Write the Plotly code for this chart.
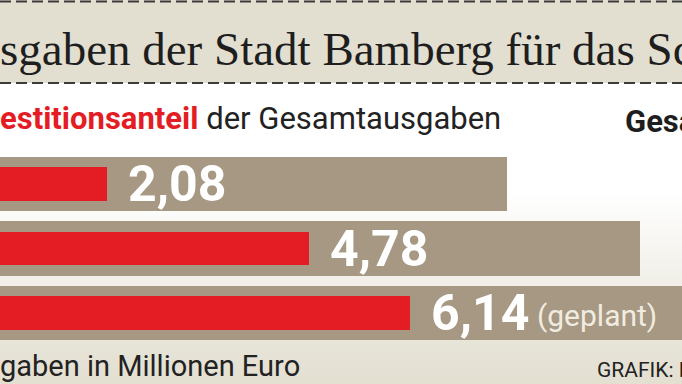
import base64
import plotly.graph_objects as go

# ---- data ----
categories = ["Jahr 1", "Jahr 2", "Jahr 3"]
gesamt = [7.44, 9.22, 10.3]          # Gesamtausgaben (tan bars)
invest = [2.08, 4.78, 6.14]          # Investitionsanteil (red bars)
invest_labels = ["2,08", "4,78", "6,14"]
notes = ["", "", "(geplant)"]

title_text = "sgaben der Stadt Bamberg für das Sc"
sub_red = "estitionsanteil"
sub_black = "der Gesamtausgaben"
right_head = "Gesa"
unit_text = "gaben in Millionen Euro"
credit_text = "GRAFIK: F"

W, H = 682, 384
TAN = "#a69882"
RED = "#e41c24"
BAND = "#e2dfd0"
SANS = "Roboto, Liberation Sans, sans-serif"

fig = go.Figure()
fig.add_trace(go.Bar(y=categories, x=gesamt, orientation="h", width=0.84,
                     marker=dict(color=TAN, line=dict(width=0)),
                     hoverinfo="skip", showlegend=False))
fig.add_trace(go.Bar(y=categories, x=invest, orientation="h", width=0.52,
                     marker=dict(color=RED, line=dict(width=0)),
                     hoverinfo="skip", showlegend=False))

# value labels after the red bars
for c, v, lab, note in zip(categories, invest, invest_labels, notes):
    fig.add_annotation(x=v, y=c, xref="x", yref="y", text="<b>" + lab + "</b>",
                       showarrow=False, xanchor="left", yanchor="middle",
                       xshift=19, font=dict(family=SANS, size=50, color="white"))
    if note:
        fig.add_annotation(x=v, y=c, xref="x", yref="y", text=note,
                           showarrow=False, xanchor="left", yanchor="middle",
                           xshift=125, yshift=-2,
                           font=dict(family=SANS, size=30, color="#f1ece1"))

# background: gradient below the title band
svg = ('<svg xmlns="http://www.w3.org/2000/svg" width="682" height="300" preserveAspectRatio="none">'
       '<defs><linearGradient id="g" x1="0" y1="0" x2="0" y2="1">'
       '<stop offset="0" stop-color="#ffffff"/>'
       '<stop offset="0.36" stop-color="#ffffff"/>'
       '<stop offset="0.86" stop-color="#e7e4d8"/>'
       '<stop offset="1" stop-color="#e3e0d2"/>'
       '</linearGradient></defs><rect width="682" height="300" fill="url(#g)"/></svg>')
src = "data:image/svg+xml;base64," + base64.b64encode(svg.encode()).decode()
fig.add_layout_image(source=src, xref="paper", yref="paper", x=0, y=1 - 84 / H,
                     sizex=1, sizey=300 / H, sizing="stretch", layer="below",
                     xanchor="left", yanchor="top")

shapes = [
    dict(type="rect", xref="paper", yref="paper", x0=0, x1=1, y0=1 - 83 / H, y1=1,
         fillcolor=BAND, line=dict(width=0), layer="below"),
    dict(type="line", xref="paper", yref="paper", x0=0, x1=1, y0=1 - 1.5 / H, y1=1 - 1.5 / H,
         line=dict(color="#3b3b3b", width=2, dash="11px,5px"), layer="above"),
    dict(type="line", xref="paper", yref="paper", x0=0, x1=1, y0=1 - 83 / H, y1=1 - 83 / H,
         line=dict(color="#3b3b3b", width=2, dash="11px,5px"), layer="above"),
]

ann = [
    dict(x=0, y=1 - 49 / H, text=title_text, xanchor="left", xshift=-2,
         font=dict(family="Liberation Serif, serif", size=47, color="#1e1e1e")),
    dict(x=0, y=1 - 119 / H,
         text='<span style="color:' + RED + '"><b>' + sub_red + '</b></span> ' + sub_black,
         xanchor="left", xshift=-2,
         font=dict(family=SANS, size=31, color="#222222")),
    dict(x=625 / W, y=1 - 121 / H, text="<b>" + right_head + "</b>", xanchor="left", xshift=-2,
         font=dict(family=SANS, size=31, color="#1e1e1e")),
    dict(x=0, y=1 - 366 / H, text=unit_text, xanchor="left", xshift=-2,
         font=dict(family=SANS, size=29, color="#222222")),
    dict(x=597 / W, y=1 - 370 / H, text=credit_text, xanchor="left", xshift=-2,
         font=dict(family=SANS, size=21, color="#222222")),
]
for a in ann:
    fig.add_annotation(xref="paper", yref="paper", showarrow=False, yanchor="middle", **a)

# axes: 74.65 px per unit, zero at -48 px; rows 64.5 px apart, first row at 184 px
px_per_unit = 74.65
zero_px = -48.2
x0 = -zero_px / px_per_unit
x1 = (W - zero_px) / px_per_unit
row_px = 64.5
top_val = -184 / row_px
bottom_val = 2 + (H - 313) / row_px

fig.update_layout(
    width=W, height=H,
    margin=dict(l=0, r=0, t=0, b=0, pad=0),
    paper_bgcolor="white", plot_bgcolor="rgba(0,0,0,0)",
    barmode="overlay", bargap=0,
    shapes=shapes,
    xaxis=dict(range=[x0, x1], visible=False, fixedrange=True),
    yaxis=dict(range=[bottom_val, top_val], visible=False, fixedrange=True,
               categoryorder="array", categoryarray=categories),
)

fig.write_html("out.html", config={"displayModeBar": False},
               post_script="document.body.style.margin='0px';document.body.style.overflow='hidden';")
